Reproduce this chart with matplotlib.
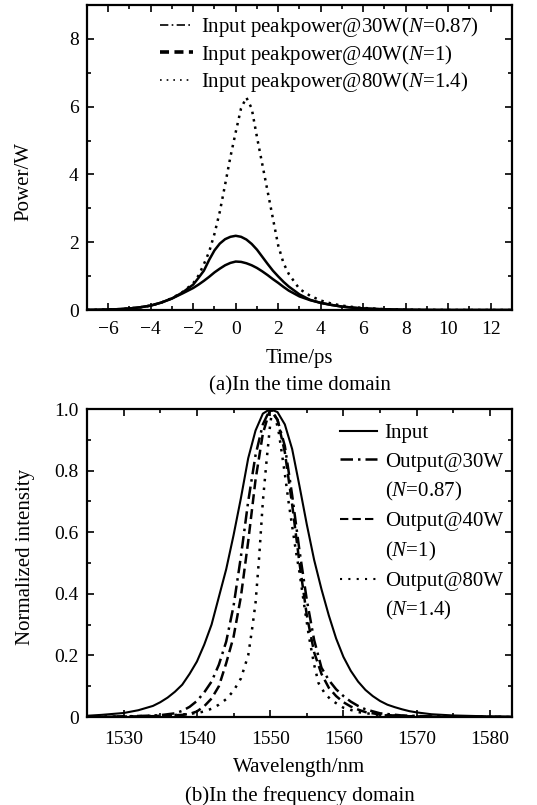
import matplotlib
matplotlib.use('Agg')
import matplotlib.pyplot as plt
from matplotlib.lines import Line2D
from matplotlib.ticker import MultipleLocator, FuncFormatter

plt.rcParams['font.family'] = 'Liberation Serif'
plt.rcParams['mathtext.fontset'] = 'custom'
plt.rcParams['mathtext.rm'] = 'Liberation Serif'
plt.rcParams['mathtext.it'] = 'Liberation Serif:italic'
plt.rcParams['font.size'] = 15
plt.rcParams['xtick.labelsize'] = 14
plt.rcParams['ytick.labelsize'] = 14

# (a) time domain, power in W
t = [-7, -6.5, -6, -5.5, -5, -4.5, -4, -3.5, -3, -2.5, -2, -1.75, -1.5, -1.25, -1, -0.75,
     -0.5, -0.25, 0, 0.25, 0.5, 0.75, 1, 1.25, 1.5, 1.75, 2, 2.25, 2.5, 3, 3.5, 4, 4.5,
     5, 5.5, 6, 7, 8, 9, 10, 11, 12, 13]
p30 = [0.004, 0.007, 0.014, 0.025, 0.045, 0.08, 0.13, 0.22, 0.34, 0.49, 0.65, 0.75, 0.86,
       0.98, 1.11, 1.22, 1.32, 1.39, 1.43, 1.42, 1.38, 1.32, 1.24, 1.14, 1.03, 0.91, 0.80,
       0.68, 0.57, 0.40, 0.29, 0.21, 0.15, 0.10, 0.07, 0.045, 0.02, 0.007, 0.002, 0, 0, 0, 0]
p40 = [0.004, 0.007, 0.014, 0.025, 0.045, 0.08, 0.13, 0.22, 0.34, 0.52, 0.75, 0.95, 1.16,
       1.48, 1.76, 1.96, 2.09, 2.16, 2.19, 2.16, 2.08, 1.95, 1.78, 1.57, 1.36, 1.16, 0.99,
       0.83, 0.69, 0.46, 0.30, 0.21, 0.15, 0.10, 0.07, 0.045, 0.02, 0.007, 0.002, 0, 0, 0, 0]
p80 = [0.004, 0.007, 0.014, 0.025, 0.045, 0.08, 0.13, 0.22, 0.35, 0.53, 0.79, 1.02, 1.35,
       1.72, 2.25, 2.9, 3.7, 4.52, 5.25, 5.95, 6.27, 5.95, 5.1, 4.3, 3.5, 2.7, 1.9,
       1.38, 1.06, 0.62, 0.42, 0.28, 0.19, 0.13, 0.09, 0.06, 0.025, 0.009, 0.003, 0.001, 0, 0, 0]
labels_a = [r'Input peakpower@30W($\mathit{N}$=0.87)',
            r'Input peakpower@40W($\mathit{N}$=1)',
            r'Input peakpower@80W($\mathit{N}$=1.4)']

# (b) frequency domain, normalized spectra
lam_in = [1525, 1527, 1530, 1532, 1534, 1535, 1536, 1537, 1538, 1539, 1540, 1541, 1542, 1543,
          1544, 1545, 1546, 1547, 1548, 1549, 1550, 1551, 1552, 1553, 1554, 1555, 1556, 1557,
          1558, 1559, 1560, 1561, 1562, 1563, 1564, 1565, 1566, 1567, 1568, 1569, 1570, 1572,
          1575, 1580, 1583]
i_in = [0.004, 0.007, 0.013, 0.022, 0.036, 0.048, 0.063, 0.082, 0.105, 0.14, 0.18, 0.235,
        0.30, 0.39, 0.48, 0.59, 0.71, 0.84, 0.93, 0.985, 1.0, 0.99, 0.95, 0.87, 0.75, 0.625,
        0.51, 0.415, 0.33, 0.255, 0.195, 0.15, 0.115, 0.088, 0.068, 0.052, 0.04, 0.032, 0.025,
        0.019, 0.015, 0.009, 0.005, 0.002, 0.001]
lam_30 = [1525, 1530, 1533, 1535, 1537, 1538, 1539, 1540, 1541, 1542, 1543, 1544, 1545, 1546,
          1547, 1548, 1549, 1550, 1551, 1552, 1553, 1554, 1555, 1556, 1557, 1558, 1559, 1560,
          1561, 1562, 1563, 1565, 1568, 1572, 1583]
i_30 = [0.0, 0.002, 0.004, 0.006, 0.012, 0.02, 0.033, 0.052, 0.08, 0.115, 0.17, 0.245, 0.36,
        0.52, 0.70, 0.85, 0.95, 1.0, 0.965, 0.88, 0.72, 0.54, 0.38, 0.25, 0.16, 0.12, 0.09,
        0.068, 0.05, 0.036, 0.025, 0.012, 0.005, 0.002, 0.0]
lam_40 = [1525, 1535, 1538, 1539, 1540, 1541, 1542, 1543, 1544, 1545, 1546, 1547, 1548, 1549,
          1550, 1551, 1552, 1553, 1554, 1555, 1556, 1557, 1558, 1559, 1560, 1561, 1562, 1563,
          1565, 1568, 1572, 1583]
i_40 = [0.0, 0.003, 0.007, 0.01, 0.018, 0.035, 0.06, 0.10, 0.175, 0.26, 0.39, 0.57, 0.77,
        0.92, 1.0, 0.965, 0.86, 0.69, 0.50, 0.33, 0.21, 0.14, 0.095, 0.068, 0.048, 0.034,
        0.024, 0.016, 0.008, 0.003, 0.001, 0.0]
lam_80 = [1525, 1535, 1538, 1540, 1541, 1542, 1543, 1544, 1545, 1546, 1547, 1547.5, 1548,
          1548.5, 1549, 1549.5, 1550, 1550.3, 1550.7, 1551.2, 1552, 1552.5, 1553, 1553.5,
          1554, 1554.6, 1555.3, 1556, 1556.6, 1557.5, 1558.4, 1560, 1562, 1565, 1570, 1583]
i_80 = [0.0, 0.004, 0.008, 0.013, 0.018, 0.027, 0.04, 0.058, 0.085, 0.125, 0.20, 0.28, 0.37,
        0.52, 0.70, 0.83, 0.95, 1.0, 0.975, 0.92, 0.79, 0.70, 0.62, 0.54, 0.47, 0.37, 0.26,
        0.17, 0.11, 0.075, 0.054, 0.03, 0.016, 0.006, 0.002, 0.0]
labels_b = ['Input', 'Output@30W', r'($\mathit{N}$=0.87)', 'Output@40W',
            r'($\mathit{N}$=1)', 'Output@80W', r'($\mathit{N}$=1.4)']

fig = plt.figure(figsize=(5.37, 8.05), dpi=100)
ax1 = fig.add_axes([0.162, 0.6149, 0.7914, 0.3789])
ax2 = fig.add_axes([0.162, 0.1093, 0.7914, 0.3826])


def style_axes(ax, xpad):
    for s in ax.spines.values():
        s.set_linewidth(1.6)
    ax.tick_params(which='both', direction='in', top=True, right=True, width=1.2)
    ax.tick_params(which='major', length=5)
    ax.tick_params(which='minor', length=3)
    ax.tick_params(axis='x', which='major', pad=xpad)
    ax.tick_params(axis='y', which='major', pad=6)


# top panel
ax1.plot(t, p30, color='black', lw=1.8)
ax1.plot(t, p40, color='black', lw=1.8)
ax1.plot(t, p80, color='black', lw=1.8, linestyle=(0, (1, 2)))
ax1.set_xlim(-7, 13)
ax1.set_ylim(0, 9)
ax1.xaxis.set_major_locator(MultipleLocator(2))
ax1.xaxis.set_minor_locator(MultipleLocator(1))
ax1.yaxis.set_major_locator(MultipleLocator(2))
ax1.yaxis.set_minor_locator(MultipleLocator(1))
style_axes(ax1, 8)
ax1.set_xlabel('Time/ps', va='center')
ax1.xaxis.set_label_coords(0.5, -0.16)
ax1.set_ylabel('Power/W', va='center')
ax1.yaxis.set_label_coords(-0.148, 0.42)
handles_a = [Line2D([], [], color='black', lw=1.2, linestyle=(0, (5, 2, 1, 2))),
             Line2D([], [], color='black', lw=2.6, linestyle=(0, (2.5, 1.5))),
             Line2D([], [], color='black', lw=1.2, linestyle=(0, (1, 3)))]
ax1.legend(handles_a, labels_a, loc='upper left', bbox_to_anchor=(0.172, 0.967),
           frameon=False, borderpad=0, borderaxespad=0, handlelength=1.6,
           handletextpad=0.35, labelspacing=0.17)
fig.text(300 / 537, 1 - 386 / 805, '(a)In the time domain', ha='center', va='center')

# bottom panel
ax2.plot(lam_in, i_in, color='black', lw=1.5)
ax2.plot(lam_30, i_30, color='black', lw=1.8, linestyle=(0, (5, 2, 1, 2)))
ax2.plot(lam_40, i_40, color='black', lw=1.8, linestyle=(0, (4, 2)))
ax2.plot(lam_80, i_80, color='black', lw=1.8, linestyle=(0, (1, 2.5)))
ax2.set_xlim(1525, 1583)
ax2.set_ylim(0, 1.0)
ax2.xaxis.set_major_locator(MultipleLocator(10))
ax2.xaxis.set_minor_locator(MultipleLocator(5))
ax2.yaxis.set_major_locator(MultipleLocator(0.2))
ax2.yaxis.set_minor_locator(MultipleLocator(0.1))
ax2.yaxis.set_major_formatter(FuncFormatter(lambda v, p: '0' if abs(v) < 1e-9 else f'{v:.1f}'))
style_axes(ax2, 10)
ax2.set_xlabel('Wavelength/nm', va='center')
ax2.xaxis.set_label_coords(0.5, -0.165)
ax2.set_ylabel('Normalized intensity', va='center')
ax2.yaxis.set_label_coords(-0.145, 0.52)
blank = Line2D([], [], linestyle='none')
handles_b = [Line2D([], [], color='black', lw=1.5),
             Line2D([], [], color='black', lw=1.8, linestyle=(0, (5, 2, 1, 2))), blank,
             Line2D([], [], color='black', lw=1.5, linestyle=(0, (4, 2))), blank,
             Line2D([], [], color='black', lw=1.5, linestyle=(0, (1, 3))), blank]
ax2.legend(handles_b, labels_b, loc='upper left', bbox_to_anchor=(0.595, 0.952),
           frameon=False, borderpad=0, borderaxespad=0, handlelength=1.8,
           handletextpad=0.35, labelspacing=0.41)
fig.text(300 / 537, 1 - 796 / 805, '(b)In the frequency domain', ha='center', va='center')

fig.savefig('out.png', dpi=100)
